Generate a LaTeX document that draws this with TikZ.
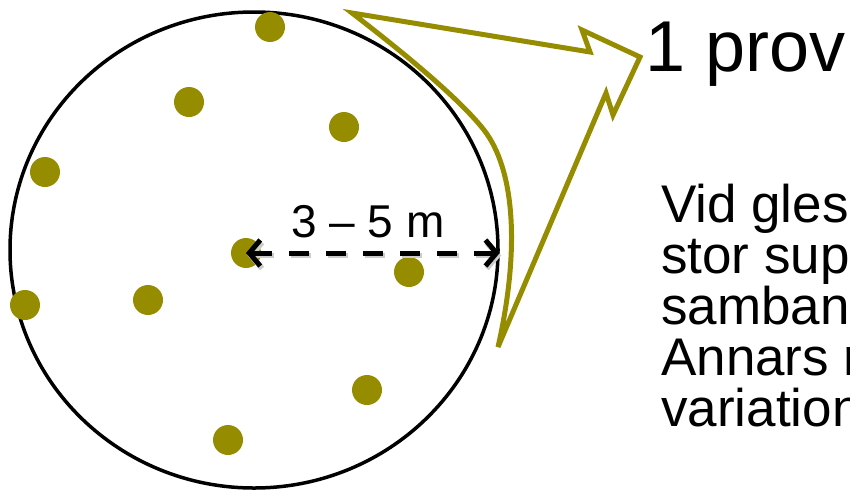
\documentclass[tikz,border=0pt]{standalone}
\usepackage{fontspec}
\setmainfont{Liberation Sans}
\usetikzlibrary{arrows.meta,positioning,shapes.geometric}
\definecolor{olivedot}{RGB}{150,140,0}

\begin{document}
\begin{tikzpicture}[
    x=1pt, y=-1pt,
    dot/.style={circle, fill=olivedot, minimum size=30pt, inner sep=0pt},
    ring/.style={ellipse, draw, line width=3.5pt, minimum width=488pt, minimum height=476pt, inner sep=0pt},
    dimarrow/.style={{Straight Barb[length=11pt,width=26pt]}-{Straight Barb[length=11pt,width=26pt]}, line width=5pt, dash pattern=on 20pt off 17pt},
    dimshadow/.style={dimarrow, draw=black!20, line width=5.5pt},
    callout/.style={draw=olivedot, line width=5pt, line join=miter},
    label/.style={inner sep=0pt, anchor=base}
  ]
    \useasboundingbox (0,0) rectangle (850,490);

    \node[ring] (ring) at (254,250) {};

    % sample points
    \foreach \x/\y [count=\i] in {270/27, 189/102, 344/127, 45/172, 246/253,
                                  409/272, 25/305, 148/300, 367/390, 228/440}
      \node[dot] (d\i) at (\x,\y) {};

    % radius
    \draw[dimshadow, transform canvas={shift={(1.5pt,-2.5pt)}}] (d5.center) -- (d5.center -| ring.east);
    \draw[dimarrow] (d5.center) -- (d5.center -| ring.east);
    \node[label, font=\fontsize{46}{50}\selectfont] (radius) at (368,237) {3 – 5 m};

    % callout
    \draw[callout] (352,13) -- (590,52) -- (582,30) -- (640,57) -- (613,115) -- (606,93) -- (498,347)
      .. controls (520,250) and (515,170) .. (484,130)
      .. controls (458,97) and (400,50) .. cycle;

    \node[label, anchor=base west, font=\fontsize{72}{74}\selectfont] (title) at (645,71) {1 prov};
    % base of a multi-line node sits on its last line
    \node[label, anchor=base west, align=left, font=\fontsize{53}{51}\selectfont] (note) at (661,426)
      {Vid gles\\stor sup\\samban\\Annars r\\variation};
  \end{tikzpicture}
\end{document}
